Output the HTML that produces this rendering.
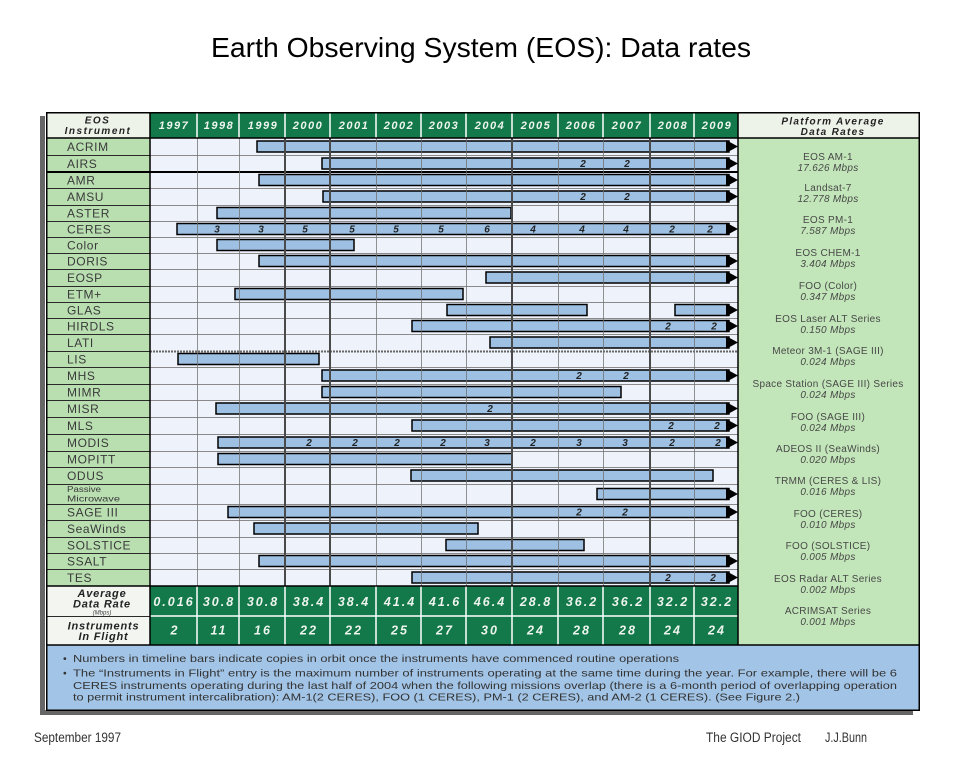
<!DOCTYPE html>
<html><head><meta charset="utf-8"><style>
html,body{margin:0;padding:0;background:#fff;}
svg{display:block;}
text{font-family:"Liberation Sans",sans-serif;}
.lab{font-size:12px;fill:#3a3a3a;letter-spacing:0.6px;}
.yr{font-size:11px;font-weight:bold;font-style:italic;fill:#eef4ee;letter-spacing:1.5px;text-anchor:middle;}
.val{font-size:12.5px;font-weight:bold;font-style:italic;fill:#eef4ee;letter-spacing:2px;text-anchor:middle;}
.num{font-size:10px;font-weight:bold;font-style:italic;fill:#222;text-anchor:middle;}
.rc{font-size:10px;fill:#484848;letter-spacing:0.3px;text-anchor:middle;}
.rci{font-size:10px;font-style:italic;fill:#484848;letter-spacing:0.3px;text-anchor:middle;}
.hd{font-size:10px;font-weight:bold;font-style:italic;fill:#222;text-anchor:middle;}
.note{font-size:10.5px;fill:#333;}
.bar{fill:#9dc0e3;stroke:#000;stroke-width:1.5;}
</style></head><body>
<svg width="960" height="768" viewBox="0 0 960 768" xmlns="http://www.w3.org/2000/svg">
<rect width="960" height="768" fill="#fff"/>
<text x="211" y="57" font-size="28" textLength="540" lengthAdjust="spacingAndGlyphs" fill="#000">Earth Observing System (EOS): Data rates</text>

<!-- shadow -->
<rect x="40" y="116" width="5" height="599" fill="#666"/>
<rect x="40" y="710" width="873" height="5" fill="#666"/>

<!-- backgrounds -->
<rect x="47" y="112" width="103" height="26" fill="#eef3ea"/>
<rect x="150" y="112" width="588" height="26" fill="#13794a"/>
<rect x="738" y="112" width="181" height="26" fill="#eef3ea"/>
<rect x="47" y="138" width="103" height="448" fill="#b9dfb1"/>
<rect x="150" y="138" width="588" height="448" fill="#eef3fb"/>
<rect x="738" y="138" width="181" height="507" fill="#c2e6b9"/>
<rect x="47" y="586" width="103" height="59" fill="#f2f5f0"/>
<rect x="150" y="586" width="588" height="59" fill="#13794a"/>
<rect x="47" y="645" width="872" height="65" fill="#a2c4e6"/>

<!-- row separators -->
<path d="M150 155.5H738M150 188.5H738M150 205.5H738M150 221.5H738M150 237.5H738M150 253.5H738M150 269.5H738M150 286.5H738M150 302.5H738M150 318.5H738M150 334.5H738M150 367.5H738M150 384.5H738M150 400.5H738M150 417.5H738M150 434.5H738M150 451.5H738M150 467.5H738M150 484.5H738M150 504.5H738M150 520.5H738M150 537.5H738M150 553.5H738M150 569.5H738" stroke="#8a8a8a" stroke-width="1" fill="none"/>
<path d="M47 155.5H150M47 188.5H150M47 205.5H150M47 221.5H150M47 237.5H150M47 253.5H150M47 269.5H150M47 286.5H150M47 302.5H150M47 318.5H150M47 334.5H150M47 351.5H150M47 367.5H150M47 384.5H150M47 400.5H150M47 417.5H150M47 434.5H150M47 451.5H150M47 467.5H150M47 484.5H150M47 504.5H150M47 520.5H150M47 537.5H150M47 553.5H150M47 569.5H150M47 616.5H150" stroke="#2a2a2a" stroke-width="1" fill="none"/>
<path d="M47 172H738" stroke="#000" stroke-width="2"/>
<path d="M150 351.5H738" stroke="#666" stroke-width="2" stroke-dasharray="2 1"/>

<!-- bars -->
<g class="bars">
<rect class="bar" x="257" y="141" width="472" height="11"/>
<rect class="bar" x="322" y="158" width="407" height="11"/>
<rect class="bar" x="259" y="174.5" width="470" height="11"/>
<rect class="bar" x="323" y="191" width="406" height="11"/>
<rect class="bar" x="217" y="207.5" width="294" height="11"/>
<rect class="bar" x="177" y="223.5" width="552" height="11"/>
<rect class="bar" x="217" y="239.5" width="137" height="11"/>
<rect class="bar" x="259" y="255.5" width="470" height="11"/>
<rect class="bar" x="486" y="272" width="243" height="11"/>
<rect class="bar" x="235" y="288.5" width="228" height="11"/>
<rect class="bar" x="447" y="304.5" width="140" height="11"/>
<rect class="bar" x="675" y="304.5" width="54" height="11"/>
<rect class="bar" x="412" y="320.5" width="317" height="11"/>
<rect class="bar" x="490" y="337" width="239" height="11"/>
<rect class="bar" x="178" y="353.5" width="141" height="11"/>
<rect class="bar" x="322" y="370" width="407" height="11"/>
<rect class="bar" x="322" y="386.5" width="299" height="11"/>
<rect class="bar" x="216" y="403" width="513" height="11"/>
<rect class="bar" x="412" y="420" width="317" height="11"/>
<rect class="bar" x="218" y="437" width="511" height="11"/>
<rect class="bar" x="218" y="453.5" width="294" height="11"/>
<rect class="bar" x="411" y="470" width="302" height="11"/>
<rect class="bar" x="597" y="488.5" width="132" height="11"/>
<rect class="bar" x="228" y="506.5" width="501" height="11"/>
<rect class="bar" x="254" y="523" width="224" height="11"/>
<rect class="bar" x="446" y="539.5" width="138" height="11"/>
<rect class="bar" x="259" y="555.5" width="470" height="11"/>
<rect class="bar" x="412" y="572" width="317" height="11"/>
</g>

<!-- vertical gridlines -->
<path d="M197.5 138V586M239.5 138V586M376.5 138V586M421.5 138V586M466.5 138V586M558.5 138V586M603.5 138V586M694.5 138V586" stroke="#6f6f6f" stroke-width="1" stroke-opacity="0.75"/>
<path d="M285 138V586M330 138V586M512 138V586M650 138V586" stroke="#4a4a4a" stroke-width="2"/>

<!-- arrows -->
<g fill="#000">
<polygon points="726,140 738,146.5 726,153"/>
<polygon points="726,157 738,163.5 726,170"/>
<polygon points="726,173.5 738,180 726,186.5"/>
<polygon points="726,190 738,196.5 726,203"/>
<polygon points="726,222.5 738,229 726,235.5"/>
<polygon points="726,254.5 738,261 726,267.5"/>
<polygon points="726,271 738,277.5 726,284"/>
<polygon points="726,303.5 738,310 726,316.5"/>
<polygon points="726,319.5 738,326 726,332.5"/>
<polygon points="726,336 738,342.5 726,349"/>
<polygon points="726,369 738,375.5 726,382"/>
<polygon points="726,402 738,408.5 726,415"/>
<polygon points="726,419 738,425.5 726,432"/>
<polygon points="726,436 738,442.5 726,449"/>
<polygon points="726,487.5 738,494 726,500.5"/>
<polygon points="726,505.5 738,512 726,518.5"/>
<polygon points="726,554.5 738,561 726,567.5"/>
<polygon points="726,571 738,577.5 726,584"/>
</g>

<!-- bar numbers -->
<g class="nums">
<text class="num" x="583" y="167">2</text><text class="num" x="627" y="167">2</text>
<text class="num" x="583" y="200">2</text><text class="num" x="627" y="200">2</text>
<text class="num" x="217" y="232.5">3</text><text class="num" x="261" y="232.5">3</text><text class="num" x="305" y="232.5">5</text><text class="num" x="352" y="232.5">5</text><text class="num" x="396" y="232.5">5</text><text class="num" x="441" y="232.5">5</text><text class="num" x="487" y="232.5">6</text><text class="num" x="533" y="232.5">4</text><text class="num" x="582" y="232.5">4</text><text class="num" x="626" y="232.5">4</text><text class="num" x="672" y="232.5">2</text><text class="num" x="710" y="232.5">2</text>
<text class="num" x="668" y="329.5">2</text><text class="num" x="714" y="329.5">2</text>
<text class="num" x="579" y="379">2</text><text class="num" x="626" y="379">2</text>
<text class="num" x="490" y="412">2</text>
<text class="num" x="671" y="429">2</text><text class="num" x="717" y="429">2</text>
<text class="num" x="309" y="446">2</text><text class="num" x="355" y="446">2</text><text class="num" x="397" y="446">2</text><text class="num" x="443" y="446">2</text><text class="num" x="487" y="446">3</text><text class="num" x="533" y="446">2</text><text class="num" x="579" y="446">3</text><text class="num" x="625" y="446">3</text><text class="num" x="672" y="446">2</text><text class="num" x="718" y="446">2</text>
<text class="num" x="579" y="515.5">2</text><text class="num" x="625" y="515.5">2</text>
<text class="num" x="668" y="581">2</text><text class="num" x="713" y="581">2</text>
</g>

<!-- white separators in green areas -->
<path d="M197 112V138M239 112V138M285 112V138M330 112V138M376 112V138M421 112V138M466 112V138M512 112V138M558 112V138M603 112V138M650 112V138M694 112V138M197 586V645M239 586V645M285 586V645M330 586V645M376 586V645M421 586V645M466 586V645M512 586V645M558 586V645M603 586V645M650 586V645M694 586V645M150 616H738" stroke="#fff" stroke-width="1.5"/>

<!-- main black lines -->
<path d="M47 138H919M47 586H738M47 645H919" stroke="#000" stroke-width="1.5"/>
<path d="M150 112V645M738 112V645" stroke="#000" stroke-width="1.5"/>
<rect x="46.75" y="112.75" width="872.5" height="597.5" fill="none" stroke="#000" stroke-width="1.5"/>

<!-- header -->
<text class="hd" x="97.5" y="123.5" style="letter-spacing:1.5px">EOS</text>
<text class="hd" x="98" y="134" style="letter-spacing:1.5px">Instrument</text>
<text class="hd" x="833" y="124.5" style="letter-spacing:1.3px">Platform Average</text>
<text class="hd" x="833" y="135" style="letter-spacing:1.3px">Data Rates</text>
<text class="yr" x="174" y="129">1997</text>
<text class="yr" x="219" y="129">1998</text>
<text class="yr" x="263" y="129">1999</text>
<text class="yr" x="308" y="129">2000</text>
<text class="yr" x="354" y="129">2001</text>
<text class="yr" x="399" y="129">2002</text>
<text class="yr" x="444" y="129">2003</text>
<text class="yr" x="490" y="129">2004</text>
<text class="yr" x="536" y="129">2005</text>
<text class="yr" x="581" y="129">2006</text>
<text class="yr" x="627" y="129">2007</text>
<text class="yr" x="673" y="129">2008</text>
<text class="yr" x="717" y="129">2009</text>

<!-- row labels -->
<text class="lab" x="67" y="151">ACRIM</text>
<text class="lab" x="67" y="168">AIRS</text>
<text class="lab" x="67" y="184.5">AMR</text>
<text class="lab" x="67" y="201">AMSU</text>
<text class="lab" x="67" y="217.5">ASTER</text>
<text class="lab" x="67" y="233.5">CERES</text>
<text class="lab" x="67" y="249.5">Color</text>
<text class="lab" x="67" y="265.5">DORIS</text>
<text class="lab" x="67" y="282">EOSP</text>
<text class="lab" x="67" y="298.5">ETM+</text>
<text class="lab" x="67" y="314.5">GLAS</text>
<text class="lab" x="67" y="330.5">HIRDLS</text>
<text class="lab" x="67" y="347">LATI</text>
<text class="lab" x="67" y="363.5">LIS</text>
<text class="lab" x="67" y="380">MHS</text>
<text class="lab" x="67" y="396.5">MIMR</text>
<text class="lab" x="67" y="413">MISR</text>
<text class="lab" x="67" y="430">MLS</text>
<text class="lab" x="67" y="447">MODIS</text>
<text class="lab" x="67" y="463.5">MOPITT</text>
<text class="lab" x="67" y="480">ODUS</text>
<text x="67" y="492" font-size="8" fill="#3a3a3a" textLength="34" lengthAdjust="spacingAndGlyphs">Passive</text>
<text x="67" y="501.5" font-size="8.5" fill="#3a3a3a" textLength="53" lengthAdjust="spacingAndGlyphs">Microwave</text>
<text class="lab" x="67" y="516.5">SAGE III</text>
<text class="lab" x="67" y="533">SeaWinds</text>
<text class="lab" x="67" y="549.5">SOLSTICE</text>
<text class="lab" x="67" y="565.5">SSALT</text>
<text class="lab" x="67" y="582">TES</text>

<!-- right column -->
<text class="rc" x="828" y="160">EOS AM-1</text><text class="rci" x="828" y="171">17.626 Mbps</text>
<text class="rc" x="828" y="191">Landsat-7</text><text class="rci" x="828" y="202">12.778 Mbps</text>
<text class="rc" x="828" y="223">EOS PM-1</text><text class="rci" x="828" y="234">7.587 Mbps</text>
<text class="rc" x="828" y="256">EOS CHEM-1</text><text class="rci" x="828" y="267">3.404 Mbps</text>
<text class="rc" x="828" y="289">FOO (Color)</text><text class="rci" x="828" y="300">0.347 Mbps</text>
<text class="rc" x="828" y="322">EOS Laser ALT Series</text><text class="rci" x="828" y="333">0.150 Mbps</text>
<text class="rc" x="828" y="354">Meteor 3M-1 (SAGE III)</text><text class="rci" x="828" y="365">0.024 Mbps</text>
<text class="rc" x="828" y="387">Space Station (SAGE III) Series</text><text class="rci" x="828" y="398">0.024 Mbps</text>
<text class="rc" x="828" y="420">FOO (SAGE III)</text><text class="rci" x="828" y="431">0.024 Mbps</text>
<text class="rc" x="828" y="452">ADEOS II (SeaWinds)</text><text class="rci" x="828" y="463">0.020 Mbps</text>
<text class="rc" x="828" y="484">TRMM (CERES &amp; LIS)</text><text class="rci" x="828" y="495">0.016 Mbps</text>
<text class="rc" x="828" y="517">FOO (CERES)</text><text class="rci" x="828" y="528">0.010 Mbps</text>
<text class="rc" x="828" y="549">FOO (SOLSTICE)</text><text class="rci" x="828" y="560">0.005 Mbps</text>
<text class="rc" x="828" y="582">EOS Radar ALT Series</text><text class="rci" x="828" y="593">0.002 Mbps</text>
<text class="rc" x="828" y="614">ACRIMSAT Series</text><text class="rci" x="828" y="625">0.001 Mbps</text>

<!-- bottom rows -->
<text class="hd" x="102" y="597" style="font-size:11px;letter-spacing:0.8px">Average</text>
<text class="hd" x="102" y="607.5" style="font-size:11px;letter-spacing:0.8px">Data Rate</text>
<text x="102" y="614.5" font-size="6" font-style="italic" fill="#444" text-anchor="middle">(Mbps)</text>
<text class="hd" x="103.5" y="629.5" style="font-size:11px;letter-spacing:0.8px">Instruments</text>
<text class="hd" x="103.5" y="640" style="font-size:11px;letter-spacing:0.8px">In Flight</text>

<text class="val" x="174" y="606">0.016</text>
<text class="val" x="219" y="606">30.8</text>
<text class="val" x="263" y="606">30.8</text>
<text class="val" x="309" y="606">38.4</text>
<text class="val" x="354" y="606">38.4</text>
<text class="val" x="400" y="606">41.4</text>
<text class="val" x="445" y="606">41.6</text>
<text class="val" x="490" y="606">46.4</text>
<text class="val" x="536" y="606">28.8</text>
<text class="val" x="582" y="606">36.2</text>
<text class="val" x="628" y="606">36.2</text>
<text class="val" x="673" y="606">32.2</text>
<text class="val" x="717" y="606">32.2</text>

<text class="val" x="175" y="634.5">2</text>
<text class="val" x="219" y="634.5">11</text>
<text class="val" x="263" y="634.5">16</text>
<text class="val" x="309" y="634.5">22</text>
<text class="val" x="354" y="634.5">22</text>
<text class="val" x="400" y="634.5">25</text>
<text class="val" x="445" y="634.5">27</text>
<text class="val" x="490" y="634.5">30</text>
<text class="val" x="536" y="634.5">24</text>
<text class="val" x="582" y="634.5">28</text>
<text class="val" x="628" y="634.5">28</text>
<text class="val" x="673" y="634.5">24</text>
<text class="val" x="717" y="634.5">24</text>

<!-- notes -->
<text class="note" x="63" y="662">•</text>
<text class="note" x="73" y="662" textLength="606" lengthAdjust="spacingAndGlyphs">Numbers in timeline bars indicate copies in orbit once the instruments have commenced routine operations</text>
<text class="note" x="63" y="676.5">•</text>
<text class="note" x="73" y="676.5" textLength="824" lengthAdjust="spacingAndGlyphs">The “Instruments in Flight” entry is the maximum number of instruments operating at the same time during the year.  For example, there will be  6</text>
<text class="note" x="73" y="689" textLength="824" lengthAdjust="spacingAndGlyphs">CERES instruments operating during the last half of 2004 when the following missions overlap (there is a 6-month period of overlapping operation</text>
<text class="note" x="73" y="700.5" textLength="727" lengthAdjust="spacingAndGlyphs">to permit instrument intercalibration):  AM-1(2 CERES), FOO (1 CERES), PM-1 (2 CERES), and AM-2 (1 CERES).  (See Figure 2.)</text>

<!-- footer -->
<text x="34" y="742" font-size="13.5" fill="#333" textLength="87" lengthAdjust="spacingAndGlyphs">September 1997</text>
<text x="706" y="742" font-size="13.5" fill="#333" textLength="95" lengthAdjust="spacingAndGlyphs">The GIOD Project</text>
<text x="825" y="742" font-size="13.5" fill="#333" textLength="42" lengthAdjust="spacingAndGlyphs">J.J.Bunn</text>
</svg>
</body></html>
